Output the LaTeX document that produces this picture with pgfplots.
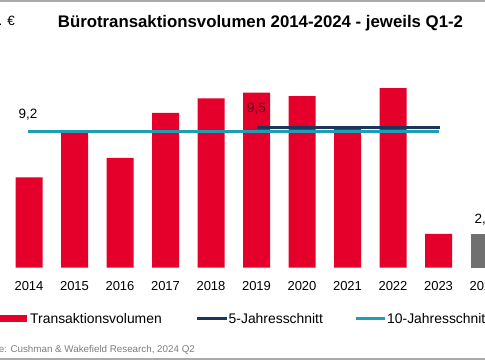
\documentclass[border=0pt]{standalone}
\usepackage{pgfplots}
\pgfplotsset{compat=1.18}
\usepackage{fontspec}
\setmainfont{Liberation Sans}
\definecolor{cwred}{RGB}{228,0,43}
\definecolor{cwnavy}{RGB}{27,54,93}
\definecolor{cwteal}{RGB}{31,157,181}
\definecolor{cwgray}{RGB}{112,112,112}
\definecolor{lgray}{RGB}{170,170,170}
\definecolor{srcgray}{RGB}{125,125,125}
\definecolor{lblred}{RGB}{95,10,25}
\begin{document}
\begin{tikzpicture}
\useasboundingbox (0,0) rectangle (485pt,360pt);
\clip (0,0) rectangle (485pt,360pt);
\fill[white] (0,0) rectangle (485pt,360pt);
\draw[line width=2pt, lgray] (0,359pt) -- (485pt,359pt);
\draw[line width=2pt, lgray] (0,1.5pt) -- (485pt,1.5pt);
\node[anchor=base, inner sep=0, font=\fontsize{16.8}{17}\selectfont\bfseries] at (260.5pt,333pt) {Bürotransaktionsvolumen 2014-2024 - jeweils Q1-2};
\node[anchor=base east, inner sep=0, font=\fontsize{13.5}{14}\selectfont] at (15pt,335pt) {Mrd. €};
\begin{axis}[
  at={(6.25pt,92.5pt)}, anchor=south west,
  x=45.5pt, y=14.78pt,
  xmin=-0.5, xmax=10.5, ymin=0, ymax=13,
  axis line style={draw=none},
  ytick=\empty,
  xtick={0,1,2,3,4,5,6,7,8,9,10},
  xticklabels={2014,2015,2016,2017,2018,2019,2020,2021,2022,2023,2024},
  major tick length=0pt,
  xticklabel style={font=\fontsize{13}{13}\selectfont, anchor=base, yshift=-22.5pt, inner sep=0pt},
  clip=false,
  ybar, bar width=27pt, bar shift=0pt,
]
\addplot[fill=cwred, draw=none] coordinates {(0,6.1) (1,9.17) (2,7.41) (3,10.47) (4,11.45) (5,11.83) (6,11.6) (7,9.46) (8,12.14) (9,2.27)};
\addplot[fill=cwgray, draw=none] coordinates {(10,2.27)};
\addplot[sharp plot, cwteal, line width=3pt] coordinates {(-0.02,9.2) (9,9.2)};
\addplot[sharp plot, cwnavy, line width=3pt] coordinates {(5,9.5) (9.03,9.5)};
\node[anchor=base, inner sep=0, font=\fontsize{13.5}{14}\selectfont, yshift=13.5pt] at (axis cs:-0.02,9.2) {9,2};
\node[anchor=base, inner sep=0, font=\fontsize{13.5}{14}\selectfont, text=lblred, yshift=14.5pt] at (axis cs:5,9.5) {9,5};
\node[anchor=base, inner sep=0, font=\fontsize{13.5}{14}\selectfont, yshift=10.5pt] at (axis cs:10,2.27) {2,3};
\end{axis}
% legend
\fill[cwred] (0,38pt) rectangle (27pt,45pt);
\node[anchor=base west, inner sep=0, font=\fontsize{13.9}{14}\selectfont] at (30pt,36.7pt) {Transaktionsvolumen};
\draw[cwnavy, line width=3pt] (197pt,42pt) -- (227pt,42pt);
\node[anchor=base west, inner sep=0, font=\fontsize{13.9}{14}\selectfont] at (228.5pt,36.7pt) {5-Jahresschnitt};
\draw[cwteal, line width=3pt] (356pt,42pt) -- (385pt,42pt);
\node[anchor=base west, inner sep=0, font=\fontsize{13.9}{14}\selectfont] at (387pt,36.7pt) {10-Jahresschnitt};
\node[anchor=base west, inner sep=0, font=\fontsize{9.8}{10}\selectfont, text=srcgray] at (-24.3pt,8pt) {Quelle: Cushman \& Wakefield Research, 2024 Q2};
\end{tikzpicture}
\end{document}
